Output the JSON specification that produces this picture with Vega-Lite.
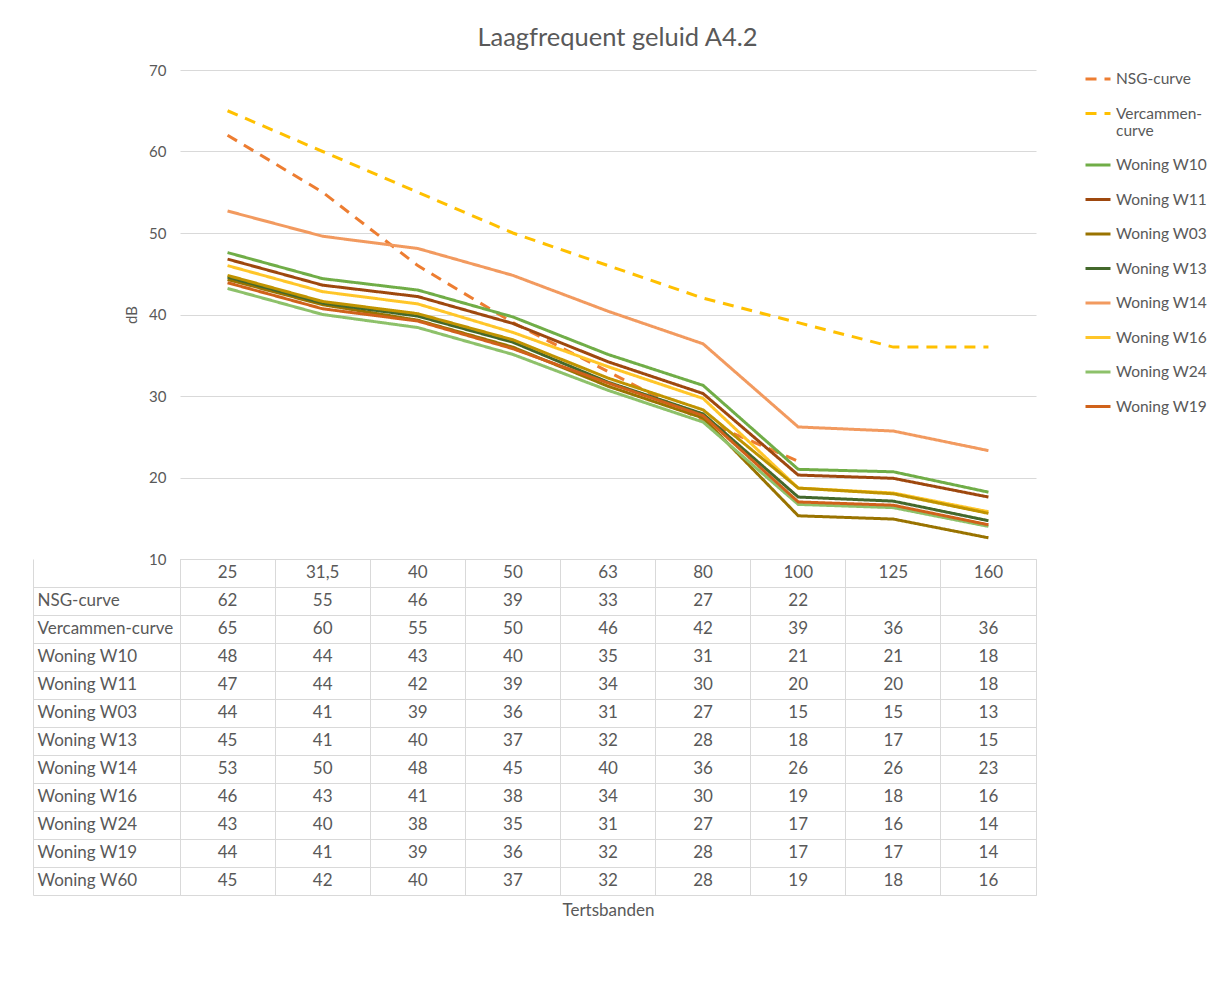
{
  "$schema": "https://vega.github.io/schema/vega-lite/v6.json",
  "padding": {"left": 32, "top": 26, "right": 5, "bottom": 5},
  "title": {"text": "Laagfrequent geluid A4.2", "anchor": "middle", "fontSize": 25.5, "fontWeight": "normal", "color": "#595959", "offset": 11.5},
  "config": {"font": "Lato"},
  "bounds": "flush",
  "spacing": 0,
  "resolve": {"scale": {"x": "independent", "y": "independent"}},
  "datasets": {
    "bands": [{"band": "25"}, {"band": "31,5"}, {"band": "40"}, {"band": "50"}, {"band": "63"}, {"band": "80"}, {"band": "100"}, {"band": "125"}, {"band": "160"}],
    "levels": [
      {"series": "NSG-curve", "band": "25", "v": 62}, {"series": "NSG-curve", "band": "31,5", "v": 55}, {"series": "NSG-curve", "band": "40", "v": 46}, {"series": "NSG-curve", "band": "50", "v": 39}, {"series": "NSG-curve", "band": "63", "v": 33}, {"series": "NSG-curve", "band": "80", "v": 27}, {"series": "NSG-curve", "band": "100", "v": 22}, {"series": "NSG-curve", "band": "125", "v": null}, {"series": "NSG-curve", "band": "160", "v": null},
      {"series": "Vercammen-curve", "band": "25", "v": 65}, {"series": "Vercammen-curve", "band": "31,5", "v": 60}, {"series": "Vercammen-curve", "band": "40", "v": 55}, {"series": "Vercammen-curve", "band": "50", "v": 50}, {"series": "Vercammen-curve", "band": "63", "v": 46}, {"series": "Vercammen-curve", "band": "80", "v": 42}, {"series": "Vercammen-curve", "band": "100", "v": 39}, {"series": "Vercammen-curve", "band": "125", "v": 36}, {"series": "Vercammen-curve", "band": "160", "v": 36},
      {"series": "Woning W10", "band": "25", "v": 47.6}, {"series": "Woning W10", "band": "31,5", "v": 44.4}, {"series": "Woning W10", "band": "40", "v": 43.0}, {"series": "Woning W10", "band": "50", "v": 39.7}, {"series": "Woning W10", "band": "63", "v": 35.1}, {"series": "Woning W10", "band": "80", "v": 31.3}, {"series": "Woning W10", "band": "100", "v": 21.0}, {"series": "Woning W10", "band": "125", "v": 20.7}, {"series": "Woning W10", "band": "160", "v": 18.2},
      {"series": "Woning W11", "band": "25", "v": 46.8}, {"series": "Woning W11", "band": "31,5", "v": 43.6}, {"series": "Woning W11", "band": "40", "v": 42.2}, {"series": "Woning W11", "band": "50", "v": 38.9}, {"series": "Woning W11", "band": "63", "v": 34.2}, {"series": "Woning W11", "band": "80", "v": 30.3}, {"series": "Woning W11", "band": "100", "v": 20.3}, {"series": "Woning W11", "band": "125", "v": 19.9}, {"series": "Woning W11", "band": "160", "v": 17.6},
      {"series": "Woning W03", "band": "25", "v": 44.3}, {"series": "Woning W03", "band": "31,5", "v": 41.2}, {"series": "Woning W03", "band": "40", "v": 39.3}, {"series": "Woning W03", "band": "50", "v": 36.0}, {"series": "Woning W03", "band": "63", "v": 31.2}, {"series": "Woning W03", "band": "80", "v": 27.3}, {"series": "Woning W03", "band": "100", "v": 15.3}, {"series": "Woning W03", "band": "125", "v": 14.9}, {"series": "Woning W03", "band": "160", "v": 12.6},
      {"series": "Woning W13", "band": "25", "v": 44.6}, {"series": "Woning W13", "band": "31,5", "v": 41.4}, {"series": "Woning W13", "band": "40", "v": 39.8}, {"series": "Woning W13", "band": "50", "v": 36.6}, {"series": "Woning W13", "band": "63", "v": 31.7}, {"series": "Woning W13", "band": "80", "v": 27.8}, {"series": "Woning W13", "band": "100", "v": 17.6}, {"series": "Woning W13", "band": "125", "v": 17.1}, {"series": "Woning W13", "band": "160", "v": 14.7},
      {"series": "Woning W14", "band": "25", "v": 52.7}, {"series": "Woning W14", "band": "31,5", "v": 49.6}, {"series": "Woning W14", "band": "40", "v": 48.1}, {"series": "Woning W14", "band": "50", "v": 44.8}, {"series": "Woning W14", "band": "63", "v": 40.4}, {"series": "Woning W14", "band": "80", "v": 36.4}, {"series": "Woning W14", "band": "100", "v": 26.2}, {"series": "Woning W14", "band": "125", "v": 25.7}, {"series": "Woning W14", "band": "160", "v": 23.3},
      {"series": "Woning W16", "band": "25", "v": 46.0}, {"series": "Woning W16", "band": "31,5", "v": 42.8}, {"series": "Woning W16", "band": "40", "v": 41.3}, {"series": "Woning W16", "band": "50", "v": 37.8}, {"series": "Woning W16", "band": "63", "v": 33.6}, {"series": "Woning W16", "band": "80", "v": 29.7}, {"series": "Woning W16", "band": "100", "v": 18.7}, {"series": "Woning W16", "band": "125", "v": 18.1}, {"series": "Woning W16", "band": "160", "v": 15.8},
      {"series": "Woning W24", "band": "25", "v": 43.2}, {"series": "Woning W24", "band": "31,5", "v": 40.0}, {"series": "Woning W24", "band": "40", "v": 38.4}, {"series": "Woning W24", "band": "50", "v": 35.1}, {"series": "Woning W24", "band": "63", "v": 30.7}, {"series": "Woning W24", "band": "80", "v": 26.8}, {"series": "Woning W24", "band": "100", "v": 16.7}, {"series": "Woning W24", "band": "125", "v": 16.3}, {"series": "Woning W24", "band": "160", "v": 14.0},
      {"series": "Woning W19", "band": "25", "v": 43.9}, {"series": "Woning W19", "band": "31,5", "v": 40.7}, {"series": "Woning W19", "band": "40", "v": 39.2}, {"series": "Woning W19", "band": "50", "v": 35.8}, {"series": "Woning W19", "band": "63", "v": 31.6}, {"series": "Woning W19", "band": "80", "v": 27.6}, {"series": "Woning W19", "band": "100", "v": 17.0}, {"series": "Woning W19", "band": "125", "v": 16.6}, {"series": "Woning W19", "band": "160", "v": 14.2},
      {"series": "Woning W60", "band": "25", "v": 44.8}, {"series": "Woning W60", "band": "31,5", "v": 41.6}, {"series": "Woning W60", "band": "40", "v": 40.1}, {"series": "Woning W60", "band": "50", "v": 36.9}, {"series": "Woning W60", "band": "63", "v": 32.2}, {"series": "Woning W60", "band": "80", "v": 28.3}, {"series": "Woning W60", "band": "100", "v": 18.7}, {"series": "Woning W60", "band": "125", "v": 18.0}, {"series": "Woning W60", "band": "160", "v": 15.6}
    ]
  },
  "vconcat": [
    {
      "width": 856,
      "height": 489,
      "view": {"stroke": null},
      "data": {"name": "levels"},
      "mark": {"type": "line", "strokeWidth": 3},
      "encoding": {
        "x": {"field": "band", "type": "ordinal", "sort": ["25", "31,5", "40", "50", "63", "80", "100", "125", "160"], "scale": {"type": "point", "padding": 0.5}, "axis": null},
        "y": {"field": "v", "type": "quantitative", "scale": {"domain": [10, 70], "nice": false, "zero": false},
          "axis": {"values": [10, 20, 30, 40, 50, 60, 70], "title": "dB", "grid": true, "gridColor": "#D9D9D9", "domain": false, "ticks": false, "labelPadding": 14, "labelFontSize": 15, "labelColor": "#595959", "titleFontSize": 15, "titleColor": "#595959", "titleFontWeight": "normal", "titlePadding": 9}},
        "color": {"field": "series", "type": "nominal",
          "scale": {"domain": ["NSG-curve", "Vercammen-curve", "Woning W10", "Woning W11", "Woning W03", "Woning W13", "Woning W14", "Woning W16", "Woning W24", "Woning W19", "Woning W60"],
            "range": ["#ED7D31", "#FFC000", "#70AD47", "#9E480E", "#997300", "#43682B", "#F29A5F", "#FFC629", "#8DC16A", "#D0621A", "#C09300"]},
          "legend": {"title": null, "values": ["NSG-curve", "Vercammen-curve", "Woning W10", "Woning W11", "Woning W03", "Woning W13", "Woning W14", "Woning W16", "Woning W24", "Woning W19"], "orient": "right", "offset": 52, "padding": -5, "symbolType": "stroke", "symbolSize": 625, "symbolStrokeWidth": 3, "labelFontSize": 15.5, "labelColor": "#595959", "labelOffset": 4, "rowPadding": 11.5, "labelLimit": 200, "labelExpr": "datum.label == 'Vercammen-curve' ? ['Vercammen-', 'curve'] : datum.label"}},
        "strokeDash": {"field": "series", "type": "nominal",
          "scale": {"domain": ["NSG-curve", "Vercammen-curve", "Woning W10", "Woning W11", "Woning W03", "Woning W13", "Woning W14", "Woning W16", "Woning W24", "Woning W19", "Woning W60"],
            "range": [[11, 8], [11, 8], [1, 0], [1, 0], [1, 0], [1, 0], [1, 0], [1, 0], [1, 0], [1, 0], [1, 0]]},
          "legend": {"title": null, "values": ["NSG-curve", "Vercammen-curve", "Woning W10", "Woning W11", "Woning W03", "Woning W13", "Woning W14", "Woning W16", "Woning W24", "Woning W19"], "orient": "right", "offset": 52, "padding": -5, "symbolType": "stroke", "symbolSize": 625, "symbolStrokeWidth": 3, "labelFontSize": 15.5, "labelColor": "#595959", "labelOffset": 4, "rowPadding": 11.5, "labelLimit": 200, "labelExpr": "datum.label == 'Vercammen-curve' ? ['Vercammen-', 'curve'] : datum.label"}}
      }
    },
    {
      "width": 856,
      "height": 336,
      "view": {"stroke": "#D9D9D9"},
      "layer": [
        {
          "data": {"name": "bands"},
          "mark": {"type": "text", "fontSize": 17, "color": "#595959"},
          "encoding": {
            "x": {"field": "band", "type": "ordinal", "sort": ["25", "31,5", "40", "50", "63", "80", "100", "125", "160"], "scale": {"type": "band", "paddingInner": 0, "paddingOuter": 0},
              "axis": {"title": "Tertsbanden", "labels": false, "ticks": false, "domain": false, "grid": true, "bandPosition": 0, "gridColor": "#D9D9D9", "titleFontSize": 17, "titleColor": "#595959", "titleFontWeight": "normal", "titlePadding": 7}},
            "y": {"datum": "hdr", "type": "ordinal",
              "scale": {"type": "band", "paddingInner": 0, "paddingOuter": 0, "domain": ["hdr", "NSG-curve", "Vercammen-curve", "Woning W10", "Woning W11", "Woning W03", "Woning W13", "Woning W14", "Woning W16", "Woning W24", "Woning W19", "Woning W60"]},
              "axis": {"title": null, "offset": 147, "domain": true, "domainColor": "#D9D9D9", "ticks": true, "tickSize": -147, "tickColor": "#D9D9D9", "bandPosition": 1, "grid": true, "gridColor": "#D9D9D9", "labelAlign": "left", "labelPadding": 143, "labelFontSize": 17, "labelColor": "#595959", "labelLimit": 200, "labelExpr": "datum.value == 'hdr' ? '' : datum.label"}},
            "text": {"field": "band", "type": "nominal"}
          }
        },
        {
          "data": {"name": "levels"},
          "transform": [{"filter": "isValid(datum.v)"}],
          "mark": {"type": "text", "fontSize": 17, "color": "#595959"},
          "encoding": {
            "x": {"field": "band", "type": "ordinal", "sort": ["25", "31,5", "40", "50", "63", "80", "100", "125", "160"]},
            "y": {"field": "series", "type": "ordinal"},
            "text": {"field": "v", "type": "quantitative", "format": ".0f"}
          }
        }
      ]
    }
  ]
}
